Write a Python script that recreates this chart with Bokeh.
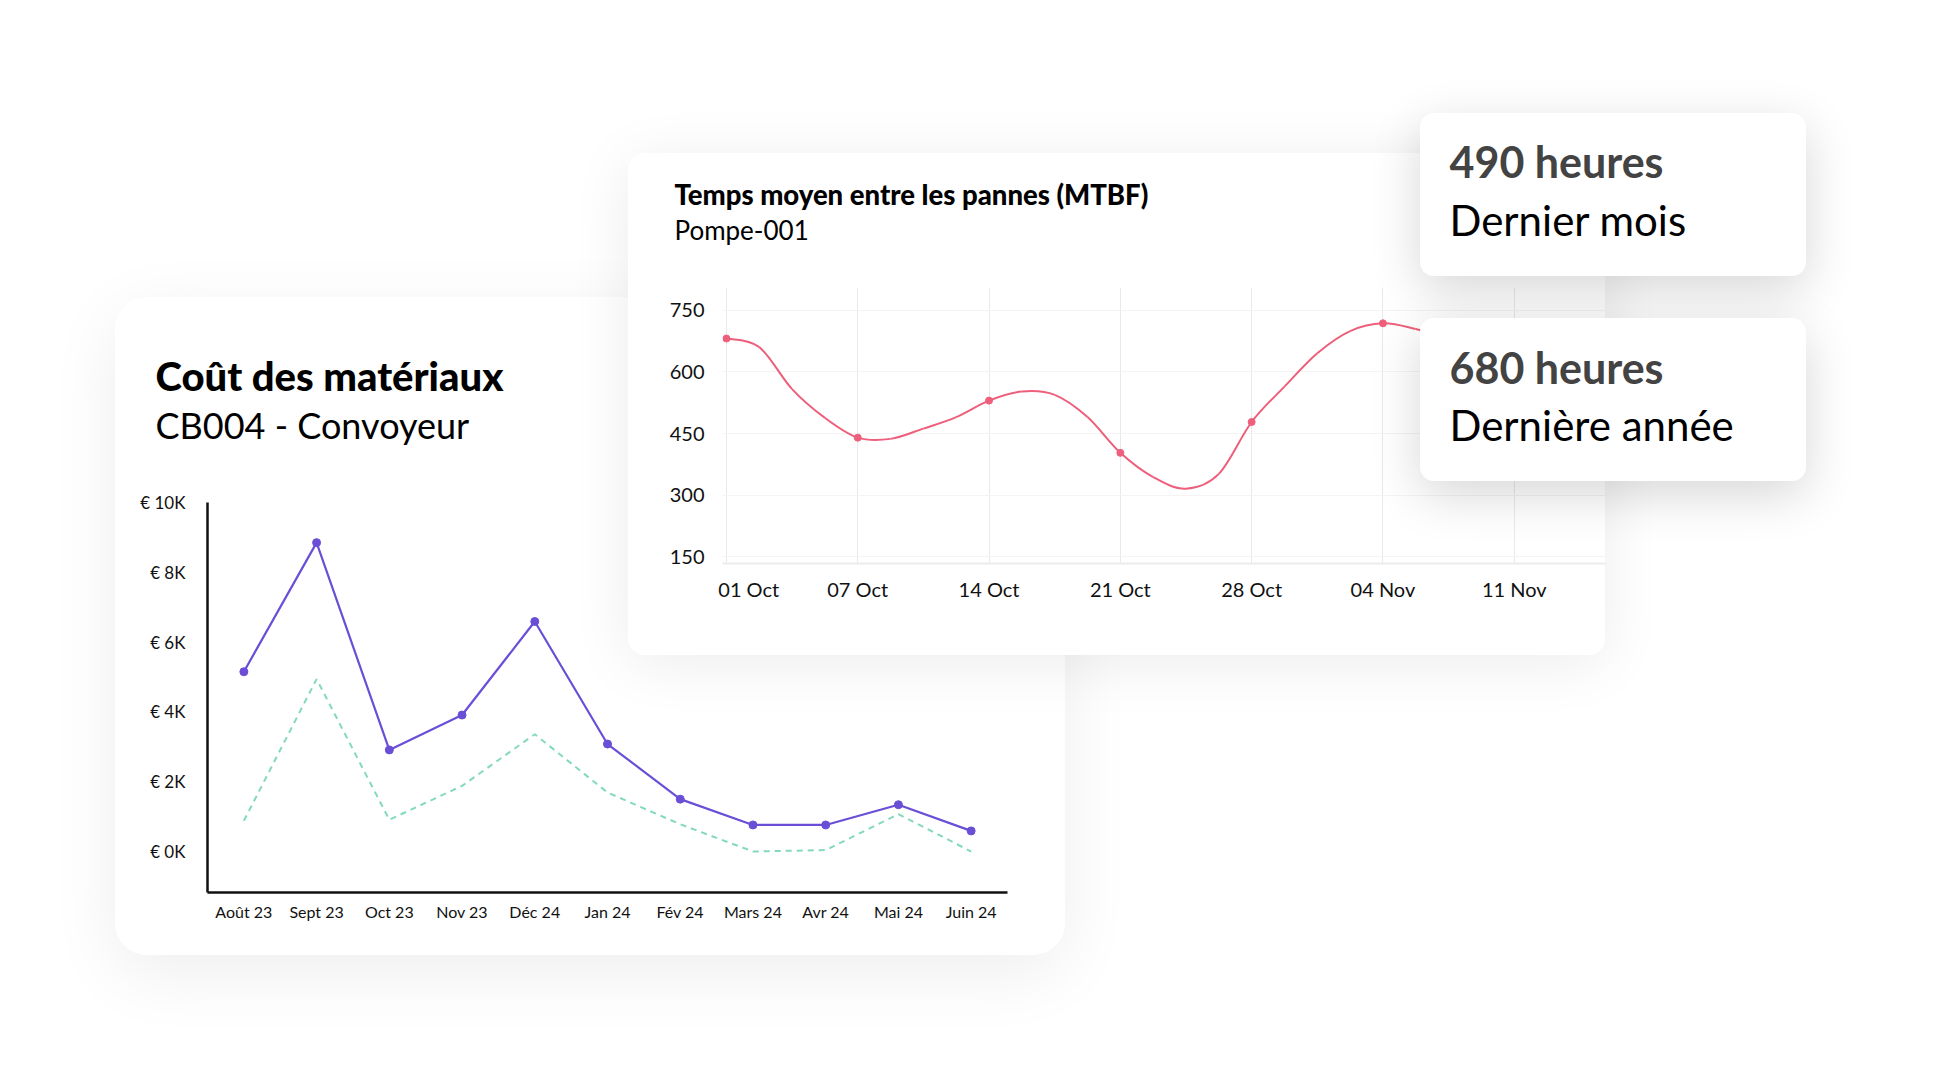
import numpy as np
from bokeh.plotting import figure
from bokeh.models import GridBox, Div, FactorRange, Range1d, FixedTicker
from bokeh.core.properties import value
from bokeh.embed import file_html
from bokeh.resources import INLINE

FONT = "Lato"
HEAVY = "'Lato Black', Lato"

# ---------------- data ----------------
cost_months = ["Août 23", "Sept 23", "Oct 23", "Nov 23", "Déc 24", "Jan 24",
               "Fév 24", "Mars 24", "Avr 24", "Mai 24", "Juin 24"]
cost_actual = [5150, 8850, 2910, 3910, 6590, 3080, 1500, 760, 760, 1340, 590]
cost_reference = [880, 4940, 910, 1880, 3360, 1690, 780, 0, 40, 1070, 0]
cost_ticks = [0, 2000, 4000, 6000, 8000, 10000]
cost_tick_labels = ["€ 0K", "€ 2K", "€ 4K", "€ 6K", "€ 8K", "€ 10K"]

mtbf_week_labels = ["01 Oct", "07 Oct", "14 Oct", "21 Oct", "28 Oct", "04 Nov", "11 Nov"]
mtbf_week = [0, 0.25, 0.5, 0.75, 1, 1.25, 1.5, 1.75, 2, 2.25, 2.5, 2.75, 3,
             3.25, 3.5, 3.75, 4, 4.25, 4.5, 4.75, 5, 5.25, 5.5]
mtbf_hours = [681, 660, 558, 488, 440, 437, 462, 490, 530, 552, 544, 490, 403,
              344, 316, 352, 478, 564, 645, 699, 718, 704, 680]
mtbf_ticks = [150, 300, 450, 600, 750]

kpi_values = ["490 heures", "680 heures"]
kpi_periods = ["Dernier mois", "Dernière année"]

PURPLE = "#6a4fd6"
GREEN = "#84d9bd"
PINK = "#ee5f7b"

# every plot shares the same borders (plots stacked in one grid cell get aligned)
BORDERS = dict(min_border_left=100, min_border_right=20, min_border_top=32, min_border_bottom=60)
BL, BR, BT, BB = 100, 20, 32, 60


def card(left, top, w, h, radius, shadow):
    return Div(text="", width=w, height=h, margin=(top, 0, 0, left),
               styles={"background-color": "#ffffff",
                       "border-radius": f"{radius}px",
                       "box-shadow": shadow})


# ---------------- cost chart ----------------
cf_left, cf_top, cf_w, cf_h = 207, 502, 800, 390   # frame in page pixels
cost = figure(width=BL + cf_w + BR, height=BT + cf_h + BB,
              x_range=FactorRange(*cost_months, range_padding=0),
              y_range=Range1d(-1175, 10000), output_backend="svg", toolbar_location=None,
              margin=(cf_top - BT, 0, 0, cf_left - BL), **BORDERS)
cost.background_fill_alpha = 0
cost.border_fill_alpha = 0
cost.outline_line_color = None
cost.grid.grid_line_color = None
cost.line(cost_months, cost_reference, line_color=GREEN, line_width=2, line_dash="6 5")
cost.line(cost_months, cost_actual, line_color=PURPLE, line_width=2.2)
cost.scatter(cost_months, cost_actual, size=8, fill_color=PURPLE, line_color=PURPLE)
cost.yaxis.ticker = FixedTicker(ticks=cost_ticks)
cost.yaxis.major_label_overrides = {t: l for t, l in zip(cost_ticks, cost_tick_labels)}
for ax in (cost.xaxis[0], cost.yaxis[0]):
    ax.axis_line_color = "#111111"
    ax.axis_line_width = 2.5
    ax.major_tick_line_color = None
    ax.minor_tick_line_color = None
    ax.major_label_text_font = FONT
    ax.major_label_text_font_size = "16px"
    ax.major_label_text_color = "#111111"
cost.yaxis.major_label_text_font_size = "17px"
cost.yaxis.major_label_standoff = 16
cost.xaxis.major_label_standoff = 3

# ---------------- MTBF chart ----------------
mf_left, mf_top, mf_w, mf_h = 722, 287, 883, 276
x0_pad = -0.03
mtbf = figure(width=BL + mf_w + BR, height=BT + mf_h + BB,
              x_range=Range1d(x0_pad, x0_pad + mf_w / 131.3), y_range=Range1d(134, 805),
              output_backend="svg", toolbar_location=None,
              margin=(mf_top - BT, 0, 0, mf_left - BL), **BORDERS)
mtbf.background_fill_alpha = 0
mtbf.border_fill_alpha = 0
mtbf.outline_line_color = None
week_idx = list(range(len(mtbf_week_labels)))
# the first label is nudged inside the plot, as in the original chart
label_pos = [0.17] + week_idx[1:]
mtbf.xaxis.ticker = FixedTicker(ticks=label_pos)
mtbf.xaxis.major_label_overrides = {p: l for p, l in zip(label_pos, mtbf_week_labels)}
mtbf.yaxis.ticker = FixedTicker(ticks=mtbf_ticks)
mtbf.xgrid.ticker = FixedTicker(ticks=week_idx)
mtbf.ygrid.ticker = FixedTicker(ticks=mtbf_ticks)
mtbf.xgrid.grid_line_color = "#e9e9e9"
mtbf.ygrid.grid_line_color = "#f4f4f4"
for ax in (mtbf.xaxis[0], mtbf.yaxis[0]):
    ax.major_tick_line_color = None
    ax.minor_tick_line_color = None
    ax.major_label_text_font = FONT
    ax.major_label_text_font_size = "20px"
    ax.major_label_text_color = "#111111"
mtbf.yaxis.axis_line_color = None
mtbf.xaxis.axis_line_color = "#ececec"
mtbf.xaxis.axis_line_width = 2
mtbf.yaxis.major_label_standoff = 12
mtbf.xaxis.major_label_standoff = 7

# smooth curve (Catmull-Rom segments drawn as Bezier glyphs)
mx = np.array(mtbf_week, dtype=float)
my = np.array(mtbf_hours, dtype=float)
px = np.concatenate([[mx[0]], mx, [mx[-1]]])
py = np.concatenate([[my[0]], my, [my[-1]]])
n = len(mx)
i = np.arange(n - 1)
mtbf.bezier(x0=mx[:-1], y0=my[:-1], x1=mx[1:], y1=my[1:],
            cx0=px[i + 1] + (px[i + 2] - px[i]) / 6, cy0=py[i + 1] + (py[i + 2] - py[i]) / 6,
            cx1=px[i + 2] - (px[i + 3] - px[i + 1]) / 6, cy1=py[i + 2] - (py[i + 3] - py[i + 1]) / 6,
            line_color=PINK, line_width=2)
mark = [k for k, w in enumerate(mtbf_week) if float(w).is_integer()]
mtbf.scatter([mtbf_week[k] for k in mark], [mtbf_hours[k] for k in mark], size=7,
             fill_color=PINK, line_color=PINK)

# ---------------- text layer (data units == page pixels) ----------------
W, H = 1933, 1083
txt = figure(width=W, height=H, x_range=Range1d(BL, W - BR), y_range=Range1d(H - BB, BT),
             output_backend="svg", toolbar_location=None, margin=(0, 0, 0, 0), **BORDERS)
txt.axis.visible = False
txt.grid.visible = False
txt.background_fill_alpha = 0
txt.border_fill_alpha = 0
txt.outline_line_color = None


def label(x, y, s, size, bold=False, color="#000000", font=FONT):
    # y is the wanted baseline; the renderer places the alphabetic baseline ~0.42 em lower
    txt.text(x=[x], y=[y - 0.42 * size], text=[s], text_font=value(font),
             text_font_size=f"{size}px",
             text_font_style="bold" if bold else "normal", text_color=color,
             text_baseline="alphabetic", text_align="left")


label(155, 392, "Coût des matériaux", 40, bold=True, font=HEAVY)
label(155, 440, "CB004 - Convoyeur", 36)
label(674, 206, "Temps moyen entre les pannes (MTBF)", 27.5, bold=True, font=HEAVY)
label(674, 240, "Pompe-001", 26)
label(1449, 179, kpi_values[0], 43, bold=True, color="#434343")
label(1449, 237, kpi_periods[0], 42)
label(1449, 385, kpi_values[1], 43, bold=True, color="#434343")
label(1449, 442, kpi_periods[1], 42)

items = [
    card(115, 297, 950, 658, 32, "0 18px 70px rgba(0,0,0,0.07)"),
    cost,
    card(628, 153, 977, 502, 16, "0 8px 60px rgba(0,0,0,0.08)"),
    mtbf,
    card(1420, 113, 386, 163, 14, "0 14px 50px rgba(0,0,0,0.16)"),
    card(1420, 318, 386, 163, 14, "0 14px 50px rgba(0,0,0,0.16)"),
    txt,
]
grid = GridBox(children=[(it, 0, 0) for it in items])

open("out.html", "w").write(file_html(grid, INLINE))
